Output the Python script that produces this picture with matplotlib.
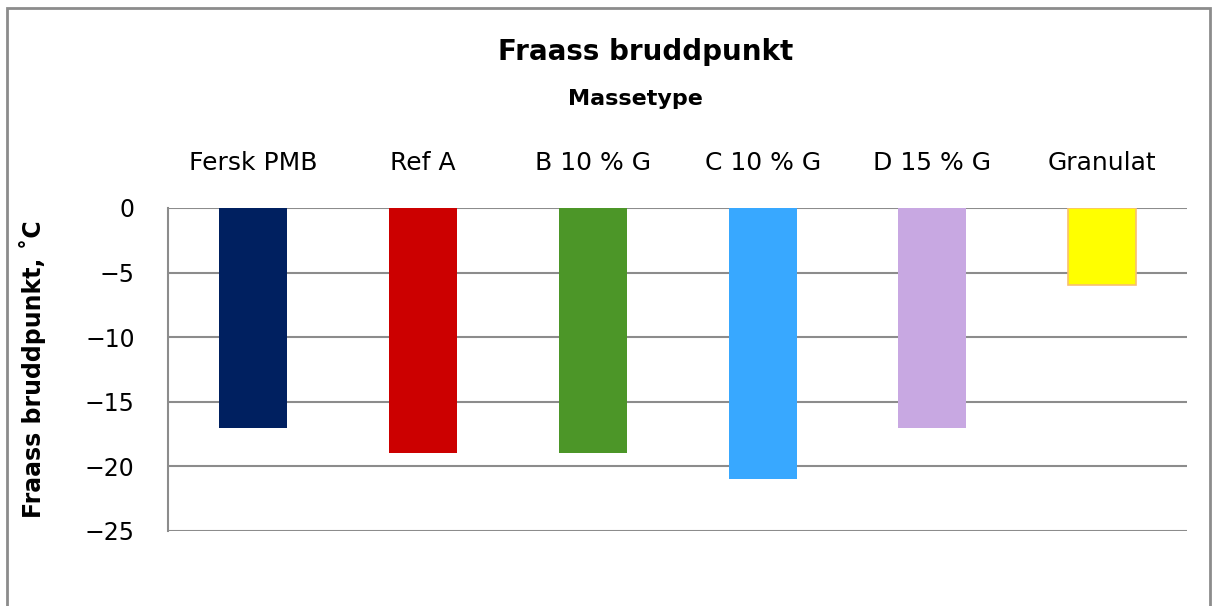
#!/usr/bin/env python3

import matplotlib
matplotlib.use('Agg')
import matplotlib.pyplot as plt
import matplotlib.patches as patches
import numpy as np

categories = ['Fersk PMB', 'Ref A', 'B 10 % G', 'C 10 % G', 'D 15 % G', 'Granulat']
values = [-17, -19, -19, -21, -17, -6]
colors = ['#002060', '#CC0000', '#4C9628', '#38A8FF', '#C8A8E2', '#FFFF00']
edges = ['none', 'none', 'none', 'none', 'none', '#F8C070']
yticks = [0, -5, -10, -15, -20, -25]

plt.rcParams['font.family'] = ['DejaVu Sans']

fig = plt.figure(figsize=(12.13, 6.06), dpi=100)
ax = fig.add_axes([0.1385, 0.1238, 0.8403, 0.533])

x = np.arange(len(categories))
ax.bar(x, values, width=0.40, color=colors, edgecolor=edges, linewidth=1.2, zorder=3)

ax.set_xlim(-0.5, len(categories) - 0.5)
ax.set_ylim(-25, 0)
ax.set_yticks(yticks)
ax.set_yticklabels(['0', '\u22125', '\u221210', '\u221215', '\u221220', '\u221225'], fontsize=17)
ax.grid(axis='y', color='#8c8c8c', linewidth=1.5, zorder=0)
ax.tick_params(axis='y', length=0, pad=24)

ax.xaxis.tick_top()
ax.set_xticks(x)
ax.set_xticklabels(categories, fontsize=18)
ax.tick_params(axis='x', length=0, pad=24)

for side in ['top', 'right', 'bottom']:
    ax.spines[side].set_visible(False)
ax.spines['left'].set_color('#8c8c8c')
ax.spines['left'].set_linewidth(1.5)

ax.set_ylabel('Fraass bruddpunkt, \u02daC', fontsize=17, fontweight='bold')
ax.yaxis.set_label_coords(-0.12, 0.5)

fig.text(0.532, 0.914, 'Fraass bruddpunkt', ha='center', va='center', fontsize=20, fontweight='bold')
fig.text(0.524, 0.837, 'Massetype', ha='center', va='center', fontsize=16, fontweight='bold')

# outer frame of the chart
fig.patches.append(patches.Rectangle((7 / 1213, -0.1), 1203 / 1213, 1.1 - 8 / 606,
                                     transform=fig.transFigure, fill=False,
                                     edgecolor='#8c8c8c', linewidth=2))

fig.savefig('out.png', dpi=100)
